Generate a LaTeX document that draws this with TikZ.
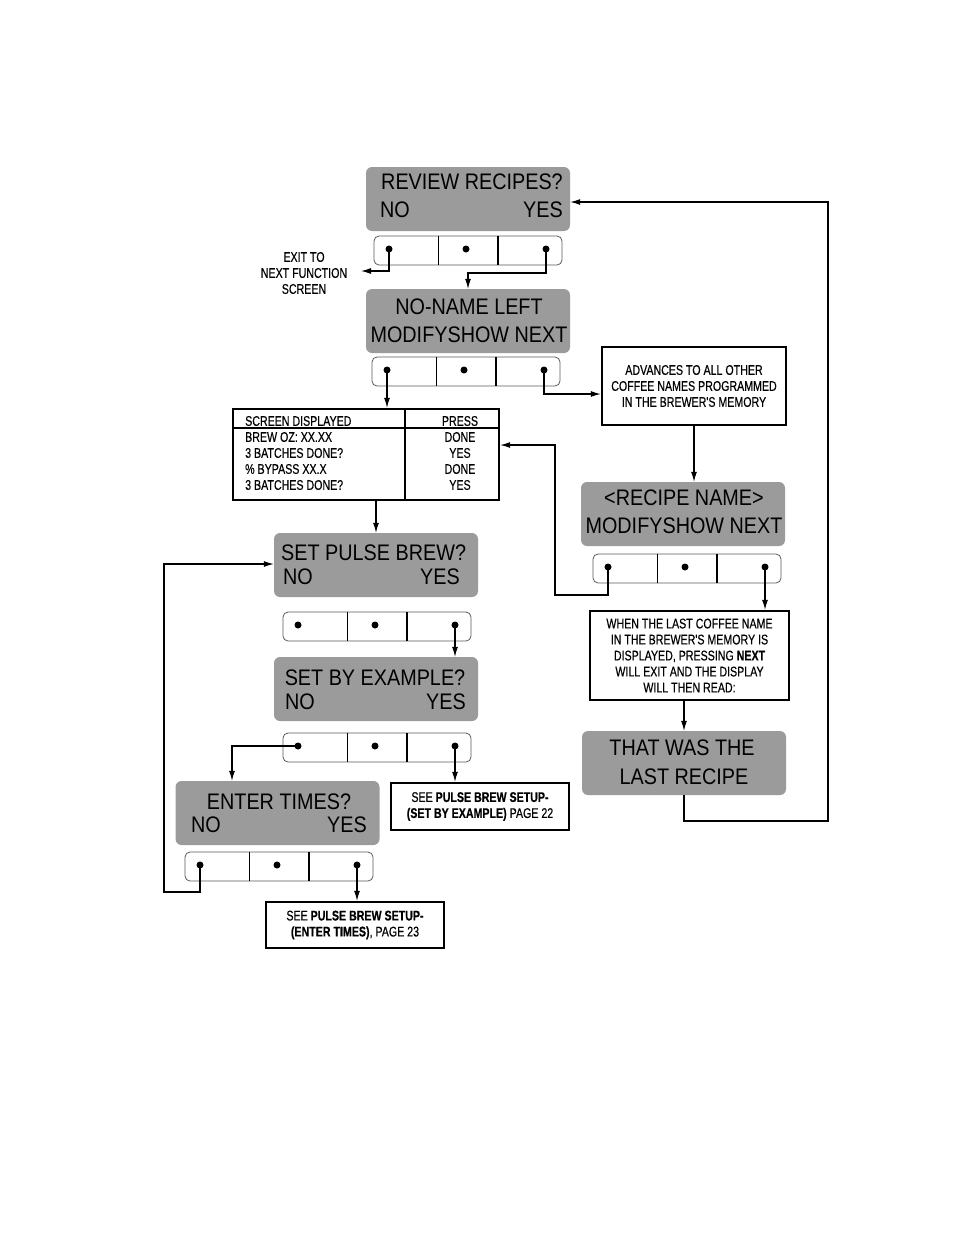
\documentclass[tikz,border=0pt]{standalone}
\usepackage{fontspec}
\setmainfont{Liberation Sans}
\newfontfamily\lcdfont[FakeStretch=0.88]{Liberation Sans}
\newfontfamily\notefont[FakeStretch=0.76,FakeBold=0.4]{Liberation Sans}
\usetikzlibrary{arrows.meta}
\definecolor{lcdgray}{RGB}{155,155,155}
\definecolor{keyrim}{RGB}{90,90,90}

\tikzset{
lcd/.style={fill=lcdgray, rounded corners=6pt, minimum width=204pt, minimum height=64pt, inner sep=0pt},
lcdtext/.style={font=\lcdfont\fontsize{22.5}{26}\selectfont, inner sep=0pt},
notetext/.style={font=\notefont\fontsize{14}{16}\selectfont, align=center, inner sep=0pt},
notebox/.style={draw, line width=2.4pt, notetext},
wire/.style={line width=1.1pt},
arrowwire/.style={wire, -{Latex[length=10pt,width=6pt]}}
}

\newcommand{\keypad}[3]{%
\begin{scope}[shift={(#2,#3)}]
\draw[keyrim, fill=white, rounded corners=5pt, line width=0.8pt] (0,0) rectangle (188,29);
\draw[line width=0.8pt] (64,0) -- (64,29);
\draw[line width=1.4pt] (124,0) -- (124,29);
\foreach \dx/\dn in {15/l,92/m,172/r} {
\fill (\dx,13) circle (3.5pt);
\coordinate (#1-\dn) at (\dx,13);
}
\end{scope}}

\begin{document}
\begin{tikzpicture}[x=1pt,y=-1pt]
\useasboundingbox (0,0) rectangle (954,1235);

\node[lcd] (review) at (468,199) {};
\node[lcdtext] (review-t) at (472,182) {REVIEW RECIPES?};
\node[lcdtext, anchor=west] (review-no) at (380,210) {NO};
\node[lcdtext, anchor=east] (review-yes) at (563,210) {YES};
\keypad{kreview}{374}{236}

\node[lcd] (noname) at (468,321) {};
\node[lcdtext] (noname-t) at (469,307) {NO-NAME LEFT};
\node[lcdtext] (noname-b) at (469,335) {MODIFYSHOW NEXT};
\keypad{knoname}{372}{357}

\node[lcd] (recipe) at (683,514) {};
\node[lcdtext] (recipe-t) at (684,498) {<RECIPE NAME>};
\node[lcdtext] (recipe-b) at (684,526) {MODIFYSHOW NEXT};
\keypad{krecipe}{593}{554}

\node[lcd] (last) at (684,763) {};
\node[lcdtext] (last-t) at (682,748) {THAT WAS THE};
\node[lcdtext] (last-b) at (684,777) {LAST RECIPE};

\node[lcd] (pulse) at (376,565) {};
\node[lcdtext, anchor=west] (pulse-t) at (281,553) {SET PULSE BREW?};
\node[lcdtext, anchor=west] (pulse-no) at (283,577) {NO};
\node[lcdtext, anchor=east] (pulse-yes) at (460,577) {YES};
\keypad{kpulse}{283}{612}

\node[lcd] (example) at (376,689) {};
\node[lcdtext] (example-t) at (375,678) {SET BY EXAMPLE?};
\node[lcdtext, anchor=west] (example-no) at (285,702) {NO};
\node[lcdtext, anchor=east] (example-yes) at (466,702) {YES};
\keypad{kexample}{283}{733}

\node[lcd] (times) at (277.5,813) {};
\node[lcdtext] (times-t) at (279,802) {ENTER TIMES?};
\node[lcdtext, anchor=west] (times-no) at (191,825) {NO};
\node[lcdtext, anchor=east] (times-yes) at (367,825) {YES};
\keypad{ktimes}{185}{852}

\node[notetext] (exit) at (304,273) {EXIT TO\\NEXT FUNCTION\\SCREEN};
\coordinate (exitpt) at (361,271);

\node[notebox, minimum width=184pt, minimum height=78pt] (advance) at (694,386)
{ADVANCES TO ALL OTHER\\COFFEE NAMES PROGRAMMED\\IN THE BREWER'S MEMORY};
\node[notebox, minimum width=199pt, minimum height=89pt] (lastnote) at (689.5,655.5)
{WHEN THE LAST COFFEE NAME\\IN THE BREWER'S MEMORY IS\\DISPLAYED, PRESSING \textbf{NEXT}\\WILL EXIT AND THE DISPLAY\\WILL THEN READ:};
\node[notebox, minimum width=178pt, minimum height=47pt] (seeexample) at (480,806.5)
{SEE \textbf{PULSE BREW SETUP-}\\\textbf{(SET BY EXAMPLE)} PAGE 22};
\node[notebox, minimum width=178pt, minimum height=46pt] (seetimes) at (355,925)
{SEE \textbf{PULSE BREW SETUP-}\\\textbf{(ENTER TIMES)}, PAGE 23};

\node[draw, line width=2.4pt, minimum width=266pt, minimum height=91pt, inner sep=0pt] (steps) at (366,454.5) {};
\draw[line width=2.2pt] (405,409) -- (405,500);
\draw[line width=1.2pt] (233,428) -- (499,428);
\node[notetext, anchor=west] (steps-h) at (245,421) {SCREEN DISPLAYED};
\node[notetext] (steps-p) at (460,421) {PRESS};
\foreach \ry/\rl/\rk in {437/BREW OZ: XX.XX/DONE, 453/3 BATCHES DONE?/YES, 469/\% BYPASS XX.X/DONE, 485/3 BATCHES DONE?/YES} {
\node[notetext, anchor=west] at (245,\ry) {\rl};
\node[notetext] at (460,\ry) {\rk};
}

\draw[arrowwire] (kreview-l) -- (kreview-l |- exitpt) -- (exitpt);
\draw[arrowwire] (kreview-r) -- (kreview-r |- 0,273) -| (noname.north);
\draw[arrowwire] (knoname-l) -- (knoname-l |- steps.north);
\draw[arrowwire] (knoname-r) |- ([yshift=-8pt]advance.west);
\draw[arrowwire] (advance.south) -- (advance.south |- recipe.north);
\draw[arrowwire] (krecipe-l) -- (krecipe-l |- 0,595) -- (555,595) -- (555,445) -- (steps.east |- 0,445);
\draw[arrowwire] (krecipe-r) -- (krecipe-r |- lastnote.north);
\draw[arrowwire] (last.north |- lastnote.south) -- (last.north);
\draw[arrowwire] (last.south) -- (last.south |- 0,821) -- (828,821) -- (828,202) -- (review.east |- 0,202);
\draw[arrowwire] (pulse.north |- steps.south) -- (pulse.north);
\draw[arrowwire] (kpulse-r) -- (kpulse-r |- example.north);
\draw[arrowwire] (kexample-l) -| ([xshift=-45.5pt]times.north);
\draw[arrowwire] (kexample-r) -- (kexample-r |- seeexample.north);
\draw[arrowwire] (ktimes-r) -- (ktimes-r |- seetimes.north);
\draw[arrowwire] (ktimes-l) -- (ktimes-l |- 0,892) -- (164,892) -- (164,564) -- (pulse.west |- 0,564);
\end{tikzpicture}
\end{document}
